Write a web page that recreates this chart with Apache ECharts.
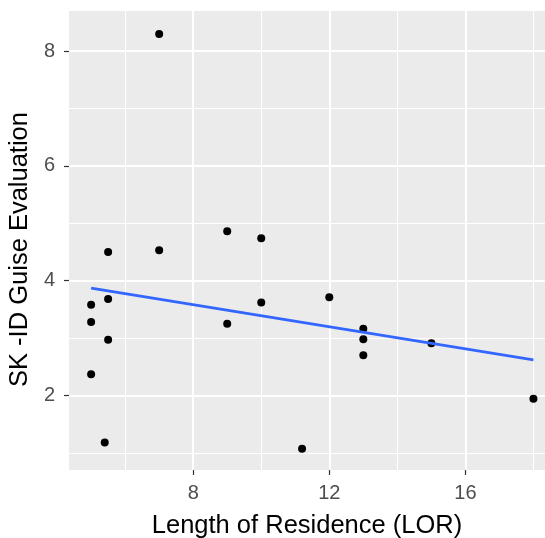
<!DOCTYPE html>
<html>
<head>
<meta charset="utf-8">
<script src="https://cdn.jsdelivr.net/npm/echarts@6/dist/echarts.min.js"></script>
<style>
  html, body { margin: 0; padding: 0; background: #fff; }
  #chart { width: 545px; height: 538px; }
</style>
</head>
<body>
<div id="chart"></div>
<script>
// 数据：居住时长 vs 评价
const lor = [7, 5.5, 7, 9, 10, 5, 5.5, 10, 12, 5, 9, 13, 13, 5.5, 13, 15, 5, 18, 5.4, 11.2];
const guise = [8.3, 4.5, 4.53, 4.86, 4.74, 3.58, 3.68, 3.62, 3.71, 3.28, 3.25, 3.16, 2.98, 2.97, 2.7, 2.91, 2.37, 1.94, 1.18, 1.07];
// 回归线两端
const fitX = [5, 18];
const fitY = [3.87, 2.62];
// 刻度
const xMajor = [8, 12, 16];
const xMinor = [6, 10, 14, 18];
const yMajor = [2, 4, 6, 8];
const yMinor = [1, 3, 5, 7];

const font = "'Liberation Sans', Arial, sans-serif";
const chart = echarts.init(document.getElementById("chart"));

const gridLines = (list, key, width) =>
  list.map((v) => ({ [key]: v, lineStyle: { color: "#ffffff", width: width, type: "solid" } }));

const option = {
  animation: false,
  backgroundColor: "#ffffff",
  grid: {
    left: 69,
    right: 0,
    top: 11,
    bottom: 68,
    show: true,
    backgroundColor: "#EBEBEB",
    borderWidth: 0,
    outerBoundsMode: "none",
  },
  xAxis: {
    type: "value",
    min: 4.35,
    max: 18.34,
    name: "Length of Residence (LOR)",
    nameLocation: "middle",
    nameGap: 43,
    nameTextStyle: { color: "#000", fontSize: 25.5, fontFamily: font },
    axisLine: { show: false },
    splitLine: { show: false },
    axisTick: { show: true, length: 5, customValues: xMajor, lineStyle: { color: "#333", width: 1.2 } },
    axisLabel: { customValues: xMajor, color: "#4D4D4D", fontSize: 20, fontFamily: font, margin: 13 },
  },
  yAxis: {
    type: "value",
    min: 0.7,
    max: 8.7,
    name: "SK -ID Guise Evaluation",
    nameLocation: "middle",
    nameRotate: 90,
    nameGap: 27,
    nameTextStyle: { color: "#000", fontSize: 25.5, fontFamily: font, padding: [0, 18, 0, 0] },
    axisLine: { show: false },
    splitLine: { show: false },
    axisTick: { show: true, length: 5, customValues: yMajor, lineStyle: { color: "#333", width: 1.2 } },
    axisLabel: { customValues: yMajor, color: "#4D4D4D", fontSize: 20, fontFamily: font, margin: 14 },
  },
  series: [
    {
      // 背景网格线
      type: "scatter",
      data: [],
      z: 0,
      silent: true,
      markLine: {
        z: 0,
        silent: true,
        symbol: "none",
        label: { show: false },
        emphasis: { disabled: true },
        data: [
          ...gridLines(xMinor, "xAxis", 1),
          ...gridLines(yMinor, "yAxis", 1),
          ...gridLines(xMajor, "xAxis", 2),
          ...gridLines(yMajor, "yAxis", 2),
        ],
      },
    },
    {
      type: "scatter",
      data: lor.map((x, i) => [x, guise[i]]),
      symbol: "circle",
      symbolSize: 8,
      clip: false,
      itemStyle: { color: "#000000", opacity: 1 },
      z: 3,
    },
    {
      type: "line",
      data: fitX.map((x, i) => [x, fitY[i]]),
      showSymbol: false,
      lineStyle: { color: "#3366FF", width: 2.7 },
      z: 4,
    },
  ],
};
chart.setOption(option);
</script>
</body>
</html>
